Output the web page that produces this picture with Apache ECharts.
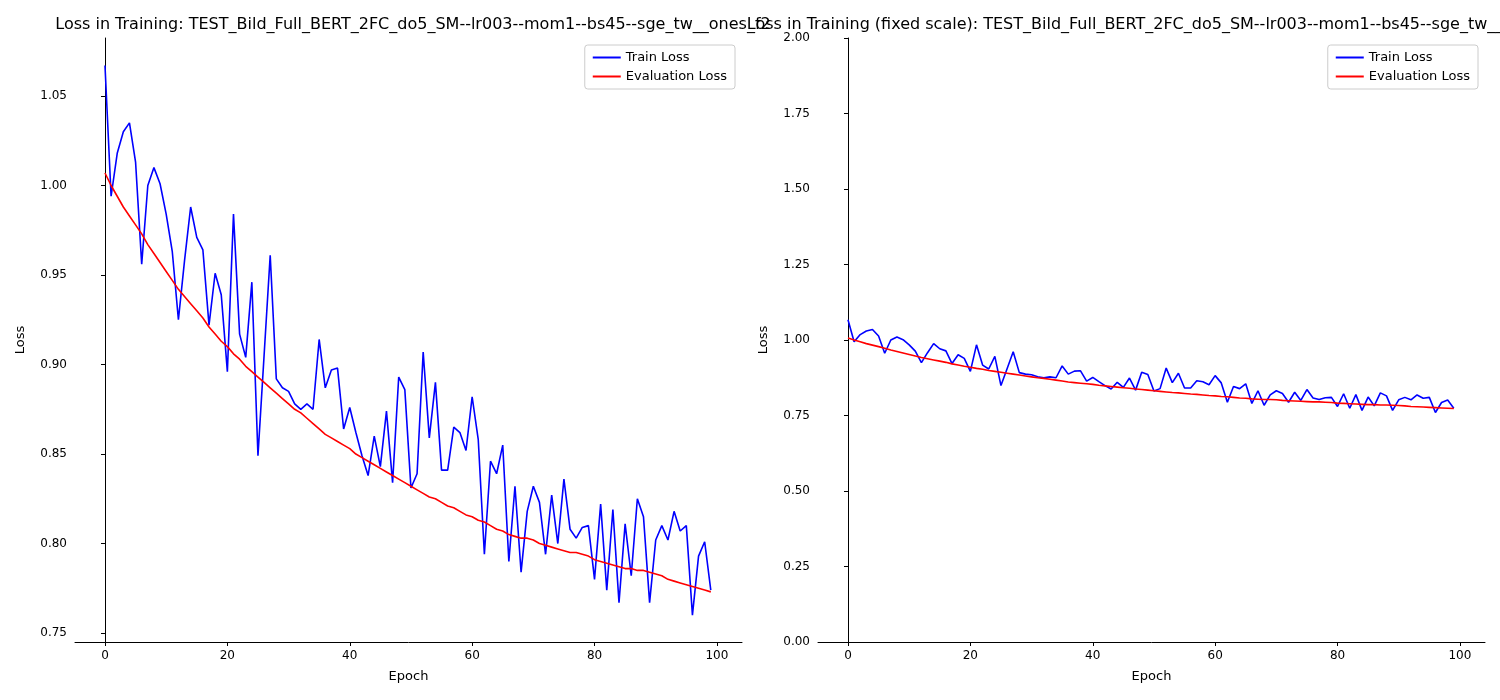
<!DOCTYPE html>
<html lang="en">
<head>
    <meta charset="UTF-8">
    <title>Loss in Training</title>
    <script src="https://cdn.jsdelivr.net/npm/echarts@6.0.0/dist/echarts.min.js"></script>
    <style>
        body { margin: 0; background: #fff; }
        #chart { width: 1500px; height: 700px; }
    </style>
</head>
<body>
<div id="chart"></div>
<script>
    var runName = 'TEST_Bild_Full_BERT_2FC_do5_SM--lr003--mom1--bs45--sge_tw__ones_f2';
    var xTicks = [0, 20, 40, 60, 80, 100];
    var leftYTicks = [0.75, 0.80, 0.85, 0.90, 0.95, 1.00, 1.05];
    var rightYTicks = [0, 0.25, 0.5, 0.75, 1.0, 1.25, 1.5, 1.75, 2.0];

    var trainLoss = [
        1.067, 0.994, 1.018, 1.030, 1.035, 1.013, 0.956, 1.000, 1.010, 1.001,
        0.984, 0.963, 0.925, 0.958, 0.988, 0.971, 0.964, 0.922, 0.951, 0.939,
        0.896, 0.984, 0.917, 0.904, 0.946, 0.849, 0.905, 0.961, 0.892, 0.887,
        0.885, 0.878, 0.875, 0.878, 0.875, 0.914, 0.887, 0.897, 0.898, 0.864,
        0.876, 0.862, 0.849, 0.838, 0.860, 0.843, 0.874, 0.834, 0.893, 0.886,
        0.831, 0.839, 0.907, 0.859, 0.890, 0.841, 0.841, 0.865, 0.862, 0.852,
        0.882, 0.858, 0.794, 0.846, 0.839, 0.855, 0.790, 0.832, 0.784, 0.818,
        0.832, 0.823, 0.794, 0.827, 0.800, 0.836, 0.808, 0.803, 0.809, 0.810,
        0.780, 0.822, 0.774, 0.819, 0.767, 0.811, 0.782, 0.825, 0.815, 0.767,
        0.802, 0.810, 0.802, 0.818, 0.807, 0.810, 0.760, 0.793, 0.801, 0.774
    ];
    var evalLoss = [
        1.007, 1.000, 0.994, 0.988, 0.983, 0.978, 0.973, 0.967, 0.962, 0.957,
        0.952, 0.947, 0.942, 0.938, 0.934, 0.930, 0.926, 0.921, 0.917, 0.913,
        0.910, 0.906, 0.903, 0.899, 0.896, 0.893, 0.890, 0.887, 0.884, 0.881,
        0.878, 0.875, 0.873, 0.870, 0.867, 0.864, 0.861, 0.859, 0.857, 0.855,
        0.853, 0.850, 0.848, 0.846, 0.844, 0.842, 0.840, 0.838, 0.836, 0.834,
        0.832, 0.830, 0.828, 0.826, 0.825, 0.823, 0.821, 0.820, 0.818, 0.816,
        0.815, 0.813, 0.812, 0.810, 0.808, 0.807, 0.805, 0.804, 0.803, 0.803,
        0.802, 0.800, 0.799, 0.798, 0.797, 0.796, 0.795, 0.795, 0.794, 0.793,
        0.791, 0.790, 0.789, 0.788, 0.787, 0.786, 0.786, 0.785, 0.785, 0.784,
        0.783, 0.782, 0.780, 0.779, 0.778, 0.777, 0.776, 0.775, 0.774, 0.773
    ];
    var epochs = trainLoss.map(function (v, i) { return i; });

    var font = 'DejaVu Sans';
    var textStyle = {fontFamily: font, fontSize: 12, color: '#000'};

    function pairs(arr) {
        return arr.map(function (v, i) { return [epochs[i], v]; });
    }

    function xAxis(idx) {
        return {
            type: 'value', gridIndex: idx, min: -4.9, max: 104.1,
            name: 'Epoch', nameLocation: 'middle', nameGap: 28,
            nameTextStyle: {fontFamily: font, fontSize: 13, color: '#000'},
            axisLine: {onZero: false, lineStyle: {color: '#000'}},
            axisTick: {customValues: xTicks, length: 4, lineStyle: {color: '#000'}},
            axisLabel: Object.assign({customValues: xTicks, margin: 8}, textStyle),
            splitLine: {show: false}
        };
    }

    function yAxis(idx, min, max, ticks, fmt) {
        return {
            type: 'value', gridIndex: idx, min: min, max: max,
            name: 'Loss', nameLocation: 'middle', nameGap: idx === 0 ? 48 : 48,
            nameTextStyle: {fontFamily: font, fontSize: 13, color: '#000'},
            axisLine: {show: true, lineStyle: {color: '#000'}},
            axisTick: {show: true, customValues: ticks, length: 4, lineStyle: {color: '#000'}},
            axisLabel: Object.assign({customValues: ticks, formatter: fmt, margin: 8}, textStyle),
            splitLine: {show: false}
        };
    }

    function series(name, data, color, idx) {
        return {
            name: name, type: 'line', xAxisIndex: idx, yAxisIndex: idx,
            data: pairs(data), showSymbol: false, symbol: 'none',
            lineStyle: {color: color, width: 1.6}, itemStyle: {color: color},
            animation: false
        };
    }

    var chart = echarts.init(document.getElementById('chart'));
    chart.setOption({
        backgroundColor: '#fff',
        animation: false,
        title: [
            {text: 'Loss in Training: ' + runName, left: 408, top: 12, textAlign: 'center',
             textStyle: {fontFamily: font, fontSize: 16, fontWeight: 'normal', color: '#000'}},
            {text: 'Loss in Training (fixed scale): ' + runName, left: 1151, top: 12, textAlign: 'center',
             textStyle: {fontFamily: font, fontSize: 16, fontWeight: 'normal', color: '#000'}}
        ],
        legend: [0, 1].map(function (i) {
            return {
                data: ['Train Loss', 'Evaluation Loss'], orient: 'vertical',
                right: i === 0 ? 765 : 22, top: 45,
                itemWidth: 28, itemHeight: 2, itemGap: 6, padding: [6, 8],
                borderColor: '#ccc', borderWidth: 1, borderRadius: 3,
                icon: 'rect',
                textStyle: {fontFamily: font, fontSize: 13, color: '#000'}
            };
        }),
        grid: [
            {left: 75, top: 38, width: 667, height: 604},
            {left: 818, top: 38, width: 667, height: 604}
        ],
        xAxis: [xAxis(0), xAxis(1)],
        yAxis: [
            yAxis(0, 0.745, 1.0824, leftYTicks, function (v) { return v.toFixed(2); }),
            yAxis(1, 0, 2, rightYTicks, function (v) { return v.toFixed(2); })
        ],
        series: [
            series('Train Loss', trainLoss, '#0000ff', 0),
            series('Evaluation Loss', evalLoss, '#ff0000', 0),
            series('Train Loss', trainLoss, '#0000ff', 1),
            series('Evaluation Loss', evalLoss, '#ff0000', 1)
        ]
    });
</script>
</body>
</html>
